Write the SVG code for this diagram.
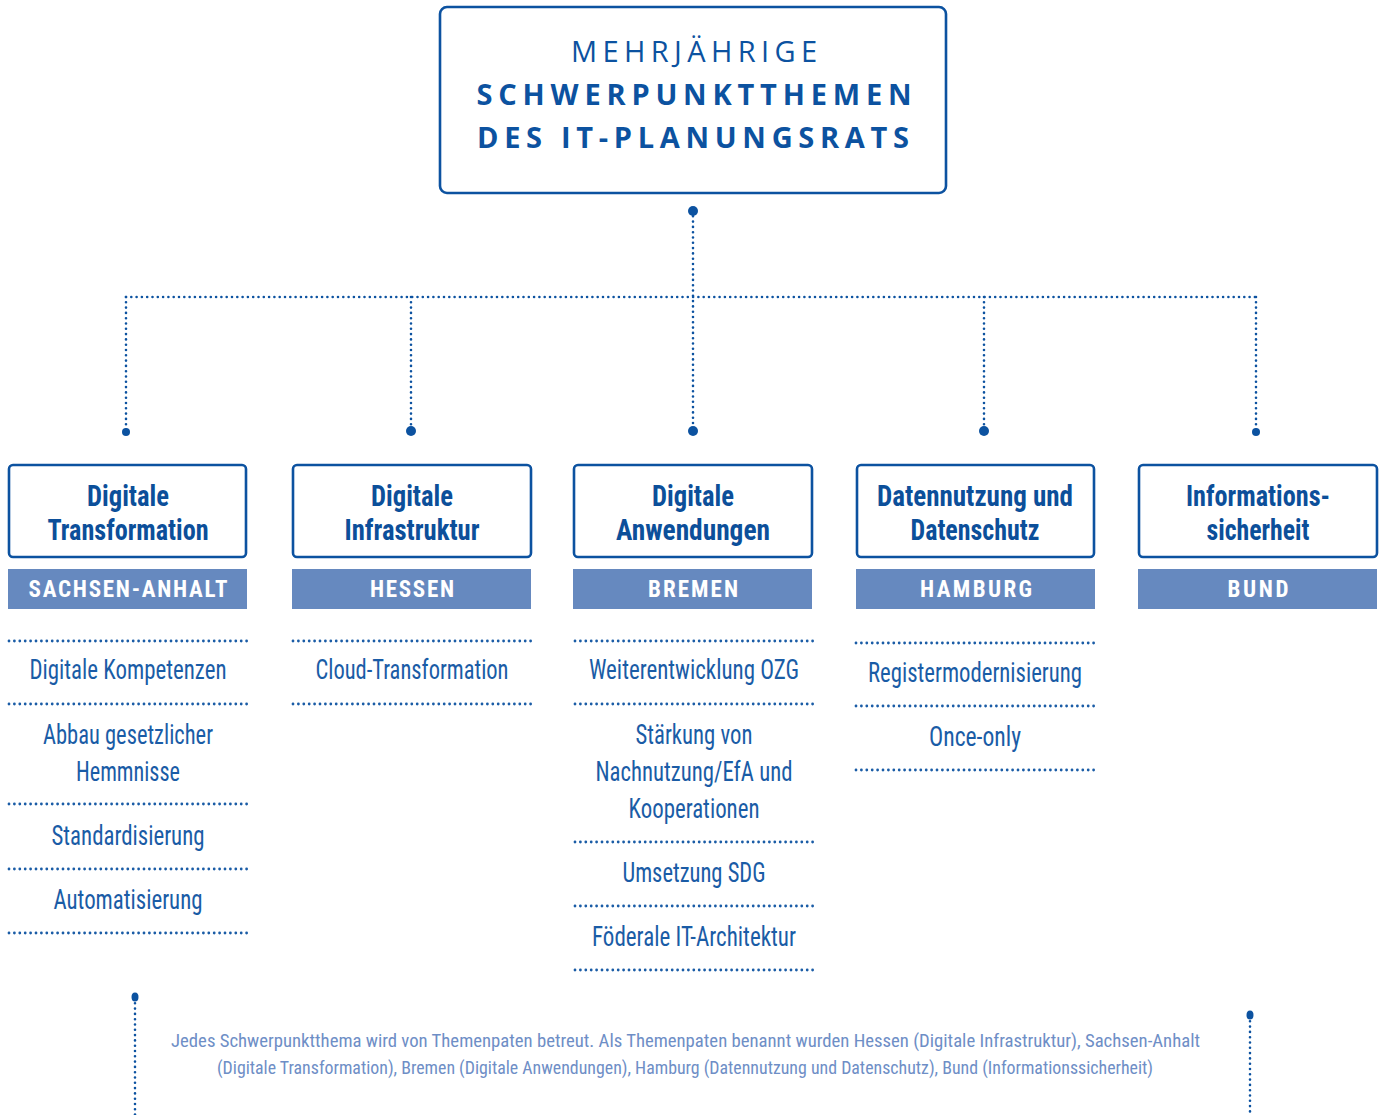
<svg xmlns="http://www.w3.org/2000/svg" width="1385" height="1115" viewBox="0 0 1385 1115">
<style>
.box{fill:#fff;stroke:#0c52a0;stroke-width:2.6}
.bar{fill:#6689bf}
.hd{font-family:"Open Sans","Liberation Sans",sans-serif;font-size:29px;fill:#0c52a0;text-anchor:middle}
.ttl{font-family:"Liberation Sans Narrow","Roboto Condensed","Liberation Sans",sans-serif;font-weight:700;font-size:29px;fill:#0c4f9a;text-anchor:middle}
.lab{font-family:"Liberation Sans Narrow","Roboto Condensed","Liberation Sans",sans-serif;font-weight:700;font-size:23px;fill:#fff;text-anchor:middle}
.itm{font-family:"Liberation Sans Narrow","Roboto Condensed","Liberation Sans",sans-serif;font-size:27px;fill:#1a5ca6;text-anchor:middle}
.note{font-family:"Liberation Sans Narrow","Roboto Condensed","Liberation Sans",sans-serif;font-size:18px;fill:#6e8ec6;text-anchor:middle}
.dot{fill:none;stroke:#0c52a0;stroke-width:2.6;stroke-linecap:round;stroke-dasharray:0 5.3}
.sep{fill:none;stroke:#1a5ca6;stroke-width:2.8;stroke-linecap:round;stroke-dasharray:0 5.4}
.end{fill:#0c52a0}
</style>

<g id="root">
<rect class="box" x="440" y="7" width="506" height="186" rx="7"/>
<text class="hd" x="694" y="62" textLength="246" lengthAdjust="spacing">MEHRJÄHRIGE</text>
<text class="hd" x="694" y="105" font-weight="700" textLength="435" lengthAdjust="spacing">SCHWERPUNKTTHEMEN</text>
<text class="hd" x="693" y="148" font-weight="700" textLength="432" lengthAdjust="spacing">DES IT-PLANUNGSRATS</text>
</g>

<g id="connectors">
<path class="dot" d="M693 211 V432"/>
<path class="dot" d="M126 297 H1256"/>
<path class="dot" d="M126 297 V432"/>
<path class="dot" d="M411 297 V432"/>
<path class="dot" d="M984 297 V432"/>
<path class="dot" d="M1256 297 V432"/>
<circle class="end" cx="693" cy="211" r="5"/>
<circle class="end" cx="126" cy="432" r="4"/>
<circle class="end" cx="411" cy="431" r="5"/>
<circle class="end" cx="693" cy="431" r="5"/>
<circle class="end" cx="984" cy="431" r="5"/>
<circle class="end" cx="1256" cy="432" r="4"/>
<path class="dot" d="M135 998 V1115"/>
<path class="dot" d="M1250 1016 V1115"/>
<ellipse class="end" cx="135" cy="997" rx="3.5" ry="4.5"/>
<ellipse class="end" cx="1250" cy="1015" rx="3.5" ry="4.5"/>
</g>

<g id="col-digitale-transformation">
<rect class="box" x="9" y="465" width="237" height="92" rx="4"/>
<text class="ttl" x="128" y="506" textLength="82" lengthAdjust="spacingAndGlyphs">Digitale</text>
<text class="ttl" x="128" y="540" textLength="161" lengthAdjust="spacingAndGlyphs">Transformation</text>
<rect class="bar" x="8" y="569" width="239" height="40"/>
<text class="lab" x="128" y="597" textLength="199" lengthAdjust="spacing">SACHSEN-ANHALT</text>
<path class="sep" d="M9 641 H249 M9 704 H249 M9 804 H249 M9 869 H249 M9 933 H249"/>
<text class="itm" x="128" y="678.5" textLength="197" lengthAdjust="spacingAndGlyphs">Digitale Kompetenzen</text>
<text class="itm" x="128" y="743.5" textLength="170" lengthAdjust="spacingAndGlyphs">Abbau gesetzlicher</text>
<text class="itm" x="128" y="780.5" textLength="104" lengthAdjust="spacingAndGlyphs">Hemmnisse</text>
<text class="itm" x="128" y="844.5" textLength="153" lengthAdjust="spacingAndGlyphs">Standardisierung</text>
<text class="itm" x="128" y="908.5" textLength="149" lengthAdjust="spacingAndGlyphs">Automatisierung</text>
</g>

<g id="col-digitale-infrastruktur">
<rect class="box" x="293" y="465" width="238" height="92" rx="4"/>
<text class="ttl" x="412" y="506" textLength="82" lengthAdjust="spacingAndGlyphs">Digitale</text>
<text class="ttl" x="412" y="540" textLength="135" lengthAdjust="spacingAndGlyphs">Infrastruktur</text>
<rect class="bar" x="292" y="569" width="239" height="40"/>
<text class="lab" x="412" y="597" textLength="84" lengthAdjust="spacing">HESSEN</text>
<path class="sep" d="M293 641 H533 M293 704 H533"/>
<text class="itm" x="412" y="678.5" textLength="193" lengthAdjust="spacingAndGlyphs">Cloud-Transformation</text>
</g>

<g id="col-digitale-anwendungen">
<rect class="box" x="574" y="465" width="238" height="92" rx="4"/>
<text class="ttl" x="693" y="506" textLength="82" lengthAdjust="spacingAndGlyphs">Digitale</text>
<text class="ttl" x="693" y="540" textLength="154" lengthAdjust="spacingAndGlyphs">Anwendungen</text>
<rect class="bar" x="573" y="569" width="239" height="40"/>
<text class="lab" x="693" y="597" textLength="90" lengthAdjust="spacing">BREMEN</text>
<path class="sep" d="M575 641 H815 M575 704 H815 M575 842 H815 M575 906 H815 M575 970 H815"/>
<text class="itm" x="694" y="678.5" textLength="210" lengthAdjust="spacingAndGlyphs">Weiterentwicklung OZG</text>
<text class="itm" x="694" y="743.5" textLength="117" lengthAdjust="spacingAndGlyphs">Stärkung von</text>
<text class="itm" x="694" y="780.5" textLength="197" lengthAdjust="spacingAndGlyphs">Nachnutzung/EfA und</text>
<text class="itm" x="694" y="817.5" textLength="131" lengthAdjust="spacingAndGlyphs">Kooperationen</text>
<text class="itm" x="694" y="881.5" textLength="143" lengthAdjust="spacingAndGlyphs">Umsetzung SDG</text>
<text class="itm" x="694" y="945.5" textLength="204" lengthAdjust="spacingAndGlyphs">Föderale IT-Architektur</text>
</g>

<g id="col-datennutzung">
<rect class="box" x="857" y="465" width="237" height="92" rx="4"/>
<text class="ttl" x="975" y="506" textLength="196" lengthAdjust="spacingAndGlyphs">Datennutzung und</text>
<text class="ttl" x="975" y="540" textLength="129" lengthAdjust="spacingAndGlyphs">Datenschutz</text>
<rect class="bar" x="856" y="569" width="239" height="40"/>
<text class="lab" x="976" y="597" textLength="112" lengthAdjust="spacing">HAMBURG</text>
<path class="sep" d="M856 643 H1097 M856 706 H1097 M856 770 H1097"/>
<text class="itm" x="975" y="681.5" textLength="214" lengthAdjust="spacingAndGlyphs">Registermodernisierung</text>
<text class="itm" x="975" y="745.5" textLength="92" lengthAdjust="spacingAndGlyphs">Once-only</text>
</g>

<g id="col-informationssicherheit">
<rect class="box" x="1139" y="465" width="238" height="92" rx="4"/>
<text class="ttl" x="1258" y="506" textLength="144" lengthAdjust="spacingAndGlyphs">Informations-</text>
<text class="ttl" x="1258" y="540" textLength="103" lengthAdjust="spacingAndGlyphs">sicherheit</text>
<rect class="bar" x="1138" y="569" width="239" height="40"/>
<text class="lab" x="1258" y="597" textLength="61" lengthAdjust="spacing">BUND</text>
</g>

<g id="note">
<text class="note" x="685.5" y="1047" textLength="1029" lengthAdjust="spacingAndGlyphs">Jedes Schwerpunktthema wird von Themenpaten betreut. Als Themenpaten benannt wurden Hessen (Digitale Infrastruktur), Sachsen-Anhalt</text>
<text class="note" x="685" y="1074" textLength="936" lengthAdjust="spacingAndGlyphs">(Digitale Transformation), Bremen (Digitale Anwendungen), Hamburg (Datennutzung und Datenschutz), Bund (Informationssicherheit)</text>
</g>
</svg>
